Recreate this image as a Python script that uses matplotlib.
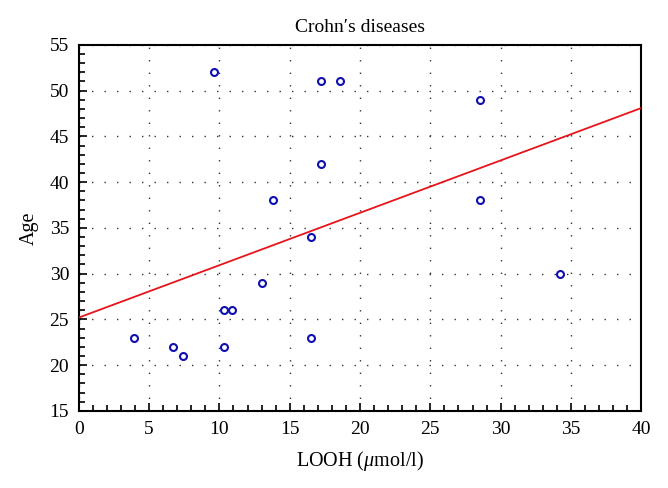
import matplotlib
matplotlib.use("Agg")
import matplotlib.pyplot as plt
from matplotlib.ticker import MultipleLocator

looh = [3.9, 6.7, 7.4, 9.6, 10.3, 10.3, 10.9, 13.0, 13.8, 16.5, 16.5, 17.2, 17.2, 18.6, 28.5, 28.5, 34.2]
age = [23, 22, 21, 52, 26, 22, 26, 29, 38, 34, 23, 51, 42, 51, 49, 38, 30]
fit_x = [0, 40]
fit_y = [25.2, 48.1]
xticks = [0, 5, 10, 15, 20, 25, 30, 35, 40]
yticks = [15, 20, 25, 30, 35, 40, 45, 50, 55]

plt.rcParams['font.family'] = ['Liberation Serif', 'DejaVu Serif']
plt.rcParams['mathtext.fontset'] = 'custom'
plt.rcParams['mathtext.rm'] = 'Liberation Serif'
plt.rcParams['mathtext.it'] = 'Liberation Serif:italic'

fig = plt.figure(figsize=(6.68, 4.88), dpi=100)
ax = fig.add_axes([0.118, 0.158, 0.842, 0.750])

ax.plot(fit_x, fit_y, color='#e8141b', lw=1.3, zorder=3)
ax.plot(looh, age, linestyle='none', marker='o', markersize=5, markerfacecolor='none',
        markeredgecolor='#1010b0', markeredgewidth=1.5, zorder=4)

ax.set_xlim(0, 40)
ax.set_ylim(15, 55)
ax.set_xticks(xticks)
ax.set_yticks(yticks)
ax.xaxis.set_minor_locator(MultipleLocator(1))
ax.yaxis.set_minor_locator(MultipleLocator(1))
ax.tick_params(which='both', direction='in', top=False, right=False, labelsize=14, width=1.2)
ax.tick_params(which='major', length=6, pad=7)
ax.tick_params(which='minor', length=4)
ax.grid(True, which='major', color='#333333', linestyle=(0, (1, 8)), linewidth=1.0)
for s in ax.spines.values():
    s.set_linewidth(1.5)

ax.set_title('Crohn\u2032s diseases', fontsize=14, pad=9)
ax.set_xlabel('LOOH ($\\mathit{\\mu}$mol/l)', fontsize=14.5, labelpad=8)
ax.set_ylabel('Age', fontsize=14.5, labelpad=8)

fig.savefig('out.png', dpi=100)
